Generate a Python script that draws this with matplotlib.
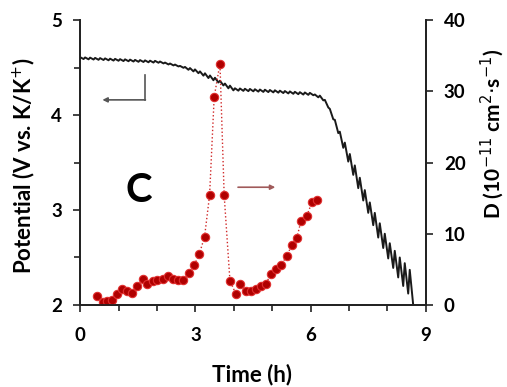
import matplotlib
matplotlib.use("Agg")
import matplotlib.pyplot as plt
from matplotlib.ticker import MultipleLocator

plt.rcParams["font.family"] = ["Lato", "DejaVu Sans"]

# GITT potential profile: pulse start times (h), relaxed potential before each
# pulse (V) and potential drop during the pulse (V)
t_pulse = [0.00, 0.13, 0.26, 0.39, 0.52, 0.65, 0.78, 0.91, 1.04, 1.17,
           1.30, 1.43, 1.56, 1.69, 1.82, 1.95, 2.08, 2.21, 2.34, 2.47,
           2.60, 2.73, 2.86, 2.99, 3.12, 3.25, 3.38, 3.51, 3.64, 3.77,
           3.90, 4.03, 4.16, 4.29, 4.42, 4.55, 4.68, 4.81, 4.94, 5.07,
           5.20, 5.33, 5.46, 5.59, 5.72, 5.85, 5.98, 6.11, 6.24, 6.37,
           6.50, 6.63, 6.76, 6.89, 7.02, 7.15, 7.28, 7.41, 7.54, 7.67,
           7.80, 7.93, 8.06, 8.19, 8.32, 8.45, 8.58]
E_relax = [4.610, 4.607, 4.605, 4.602, 4.600, 4.597, 4.594, 4.592, 4.589, 4.587,
           4.584, 4.581, 4.579, 4.576, 4.573, 4.571, 4.564, 4.553, 4.543, 4.532,
           4.518, 4.507, 4.495, 4.481, 4.460, 4.440, 4.417, 4.393, 4.362, 4.332,
           4.310, 4.282, 4.280, 4.277, 4.275, 4.272, 4.269, 4.267, 4.264, 4.261,
           4.257, 4.253, 4.249, 4.245, 4.241, 4.238, 4.234, 4.217, 4.205, 4.160,
           4.065, 3.950, 3.825, 3.710, 3.590, 3.470, 3.340, 3.210, 3.080, 2.970,
           2.860, 2.750, 2.650, 2.570, 2.500, 2.440, 2.370]
dE_pulse = [0.02, 0.02, 0.02, 0.02, 0.02, 0.02, 0.02, 0.02, 0.02, 0.02,
            0.02, 0.02, 0.02, 0.02, 0.02, 0.02, 0.02, 0.02, 0.02, 0.02,
            0.02, 0.03, 0.035, 0.04, 0.045, 0.05, 0.05, 0.05, 0.05, 0.05,
            0.05, 0.025, 0.025, 0.025, 0.025, 0.025, 0.025, 0.025, 0.025, 0.025,
            0.025, 0.025, 0.025, 0.025, 0.025, 0.025, 0.025, 0.03, 0.05, 0.08,
            0.11, 0.14, 0.17, 0.20, 0.22, 0.24, 0.24, 0.24, 0.24, 0.26,
            0.26, 0.26, 0.26, 0.28, 0.30, 0.32, 0.37]
pulse_len = 0.09  # h

# diffusion coefficient (10^-11 cm2/s)
t_D = [0.43, 0.59, 0.69, 0.82, 0.95, 1.08, 1.21, 1.34, 1.49, 1.63,
       1.75, 1.89, 2.01, 2.15, 2.30, 2.43, 2.56, 2.69, 2.84, 2.97,
       3.10, 3.24, 3.37, 3.49, 3.64, 3.75, 3.90, 4.05, 4.16, 4.32,
       4.44, 4.58, 4.71, 4.84, 4.97, 5.10, 5.23, 5.38, 5.51, 5.64,
       5.75, 5.90, 6.04, 6.17]
D = [1.3, 0.4, 0.5, 0.7, 1.6, 2.2, 1.9, 1.7, 2.6, 3.6,
     2.9, 3.4, 3.5, 3.7, 4.1, 3.7, 3.5, 3.5, 4.5, 5.6,
     7.1, 9.6, 15.4, 29.2, 33.9, 15.4, 3.4, 1.6, 3.0, 1.9,
     2.0, 2.2, 2.6, 3.0, 4.4, 5.0, 5.6, 6.9, 8.4, 9.4,
     11.8, 12.5, 14.5, 14.7]

# build the zig-zag line from the pulses
tt, EE = [], []
for t0, er, de in zip(t_pulse, E_relax, dE_pulse):
    tt += [t0, t0 + pulse_len]
    EE += [er, er - de]

fig = plt.figure(figsize=(5.07, 3.87), dpi=100, facecolor="white")
ax = fig.add_axes([0.158, 0.212, 0.682, 0.736])
ax2 = ax.twinx()

ax.plot(tt, EE, color="#1a1a1a", lw=1.4)
ax2.plot(t_D, D, color="#d02828", lw=1.0, ls=":", marker="o", ms=6,
         markerfacecolor="#b00000", markeredgecolor="#e03030", markeredgewidth=0.8)

ax.set_xlim(0, 9)
ax.set_ylim(2, 5)
ax2.set_ylim(0, 40)

ax.xaxis.set_major_locator(MultipleLocator(3))
ax.xaxis.set_minor_locator(MultipleLocator(1))
ax.yaxis.set_major_locator(MultipleLocator(1))
ax.yaxis.set_minor_locator(MultipleLocator(0.5))
ax2.yaxis.set_major_locator(MultipleLocator(10))

for a in (ax, ax2):
    a.spines["top"].set_visible(False)
    for s in ("left", "right", "bottom"):
        a.spines[s].set_linewidth(1.3)
        a.spines[s].set_color("#222222")
ax.tick_params(which="both", direction="out", width=1.2, color="#222222",
               labelsize=13.5)
ax.tick_params(which="major", length=5)
ax.tick_params(which="minor", length=4)
ax.tick_params(axis="x", pad=11)
ax.tick_params(axis="y", pad=8)
ax2.tick_params(direction="out", length=5, width=1.2, color="#222222",
                labelsize=13.5, pad=8)
for lab in ax.get_xticklabels() + ax.get_yticklabels() + ax2.get_yticklabels():
    lab.set_fontweight("bold")

ax.set_xlabel("Time (h)", fontsize=16, fontweight="bold")
ax.set_ylabel("Potential (V vs. K/K$^{+}$)", fontsize=16, fontweight="bold")
ax2.set_ylabel("D (10$^{-11}$ cm$^{2}$$\\cdot$s$^{-1}$)", fontsize=15,
               fontweight="bold")
ax.xaxis.set_label_coords(0.497, -0.205)
ax.yaxis.set_label_coords(-0.125, 0.49)
ax2.yaxis.set_label_coords(1.152, 0.60)

ax.text(1.53, 3.21, "C", fontsize=29, fontweight="bold", ha="center", va="center")

# arrows pointing to the relevant axis
ax.plot([1.69, 1.69], [4.42, 4.16], color="#555555", lw=1.2)
ax.annotate("", xy=(0.58, 4.16), xytext=(1.70, 4.16),
            arrowprops=dict(arrowstyle="-|>", color="#555555", lw=1.2,
                            mutation_scale=7, shrinkA=0, shrinkB=0))
ax.annotate("", xy=(5.08, 3.24), xytext=(4.11, 3.24),
            arrowprops=dict(arrowstyle="-|>", color="#a05a5a", lw=1.2,
                            mutation_scale=7, shrinkA=0, shrinkB=0))

fig.savefig("out.png", dpi=100, facecolor="white")
